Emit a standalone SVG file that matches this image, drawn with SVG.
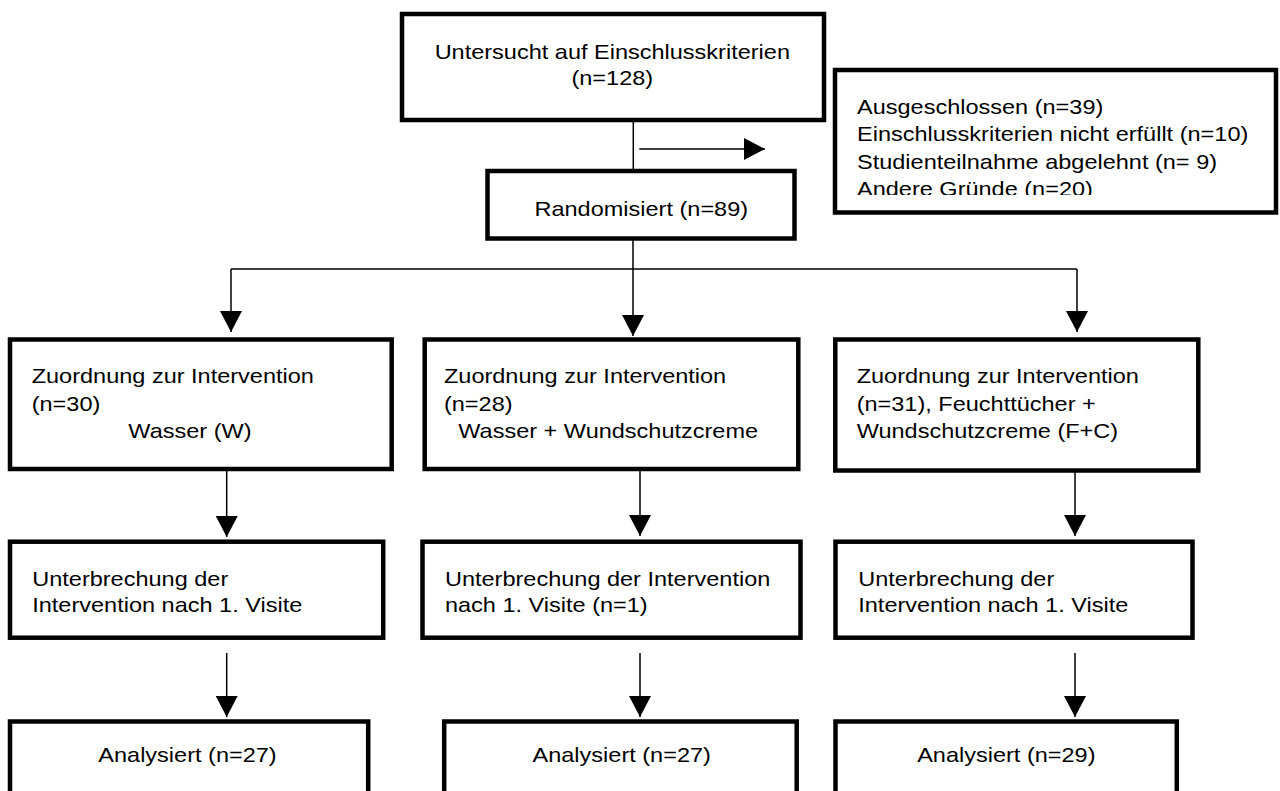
<svg xmlns="http://www.w3.org/2000/svg" width="1280" height="791" viewBox="0 0 1280 791">
<style>
.box{fill:#fff;stroke:#000;stroke-width:4.5}
.t{font-family:"Liberation Sans",Arial,sans-serif;font-size:21px;fill:#000}
.m{text-anchor:middle}
.c{fill:none;stroke:#000;stroke-width:1.5}
</style>
<defs>
<marker id="ah" markerWidth="22" markerHeight="22" refX="21" refY="11" orient="auto" markerUnits="userSpaceOnUse"><path d="M0,0 L21,11 L0,22 Z" fill="#000"/></marker>
<clipPath id="exclip"><rect x="837" y="72" width="437" height="123"/></clipPath>
</defs>
<rect width="1280" height="791" fill="#fff"/>
<g id="connectors">
<line class="c" x1="633.3" y1="122" x2="633.3" y2="169"/>
<line class="c" x1="639.3" y1="149" x2="765" y2="149" marker-end="url(#ah)"/>
<line class="c" x1="633" y1="240" x2="633" y2="269"/>
<line class="c" x1="231" y1="269" x2="1077" y2="269"/>
<line class="c" x1="231" y1="269" x2="231" y2="332" marker-end="url(#ah)"/>
<line class="c" x1="633" y1="269" x2="633" y2="336" marker-end="url(#ah)"/>
<line class="c" x1="1077" y1="269" x2="1077" y2="332" marker-end="url(#ah)"/>
<line class="c" x1="226.7" y1="471" x2="226.7" y2="537" marker-end="url(#ah)"/>
<line class="c" x1="640" y1="471" x2="640" y2="536" marker-end="url(#ah)"/>
<line class="c" x1="1075" y1="472" x2="1075" y2="536" marker-end="url(#ah)"/>
<line class="c" x1="226.7" y1="653" x2="226.7" y2="717" marker-end="url(#ah)"/>
<line class="c" x1="640" y1="653" x2="640" y2="717" marker-end="url(#ah)"/>
<line class="c" x1="1075" y1="653" x2="1075" y2="717" marker-end="url(#ah)"/>
</g>
<g id="screened">
<rect class="box" x="402" y="14" width="422" height="106"/>
<text class="t m" transform="scale(1.12 1)" x="546.7" y="59">Untersucht auf Einschlusskriterien</text>
<text class="t m" transform="scale(1.12 1)" x="546.7" y="85">(n=128)</text>
</g>
<g id="excluded">
<rect class="box" x="835" y="70" width="441" height="142.5"/>
<g clip-path="url(#exclip)">
<text class="t" transform="scale(1.12 1)" x="765.2" y="114">Ausgeschlossen (n=39)</text>
<text class="t" transform="scale(1.12 1)" x="765.2" y="141.5">Einschlusskriterien nicht erfüllt (n=10)</text>
<text class="t" transform="scale(1.12 1)" x="765.2" y="169">Studienteilnahme abgelehnt (n= 9)</text>
<text class="t" transform="scale(1.12 1)" x="765.2" y="196.5">Andere Gründe (n=20)</text>
</g>
</g>
<g id="randomised">
<rect class="box" x="487.5" y="171" width="307" height="67.5"/>
<text class="t m" transform="scale(1.12 1)" x="572.6" y="216">Randomisiert (n=89)</text>
</g>
<g id="alloc-w">
<rect class="box" x="10" y="339.5" width="381.7" height="129.5"/>
<text class="t" transform="scale(1.12 1)" x="28.3" y="383">Zuordnung zur Intervention</text>
<text class="t" transform="scale(1.12 1)" x="28.3" y="411">(n=30)</text>
<text class="t" transform="scale(1.12 1)" x="114.6" y="438">Wasser (W)</text>
</g>
<g id="alloc-wc">
<rect class="box" x="424.7" y="339.5" width="373.6" height="129.5"/>
<text class="t" transform="scale(1.12 1)" x="396.4" y="383">Zuordnung zur Intervention</text>
<text class="t" transform="scale(1.12 1)" x="396.4" y="411">(n=28)</text>
<text class="t" transform="scale(1.12 1)" x="409.2" y="438">Wasser + Wundschutzcreme</text>
</g>
<g id="alloc-fc">
<rect class="box" x="835.3" y="339.5" width="363" height="131"/>
<text class="t" transform="scale(1.12 1)" x="764.9" y="383">Zuordnung zur Intervention</text>
<text class="t" transform="scale(1.12 1)" x="764.9" y="411">(n=31), Feuchttücher +</text>
<text class="t" transform="scale(1.12 1)" x="764.9" y="438">Wundschutzcreme (F+C)</text>
</g>
<g id="stop-w">
<rect class="box" x="10" y="541.7" width="373.2" height="96"/>
<text class="t" transform="scale(1.12 1)" x="28.8" y="586">Unterbrechung der</text>
<text class="t" transform="scale(1.12 1)" x="28.8" y="612">Intervention nach 1. Visite</text>
</g>
<g id="stop-wc">
<rect class="box" x="422.5" y="541.7" width="378" height="96"/>
<text class="t" transform="scale(1.12 1)" x="397.3" y="586">Unterbrechung der Intervention</text>
<text class="t" transform="scale(1.12 1)" x="397.3" y="612">nach 1. Visite (n=1)</text>
</g>
<g id="stop-fc">
<rect class="box" x="835.5" y="541.7" width="357" height="96"/>
<text class="t" transform="scale(1.12 1)" x="766.3" y="586">Unterbrechung der</text>
<text class="t" transform="scale(1.12 1)" x="766.3" y="612">Intervention nach 1. Visite</text>
</g>
<g id="anal-w">
<rect class="box" x="10" y="721.5" width="358.2" height="100"/>
<text class="t m" transform="scale(1.12 1)" x="167.4" y="762">Analysiert (n=27)</text>
</g>
<g id="anal-wc">
<rect class="box" x="444.2" y="721.5" width="352.5" height="100"/>
<text class="t m" transform="scale(1.12 1)" x="555.1" y="762">Analysiert (n=27)</text>
</g>
<g id="anal-fc">
<rect class="box" x="835.5" y="721.5" width="341.3" height="100"/>
<text class="t m" transform="scale(1.12 1)" x="898.5" y="762">Analysiert (n=29)</text>
</g>
</svg>
